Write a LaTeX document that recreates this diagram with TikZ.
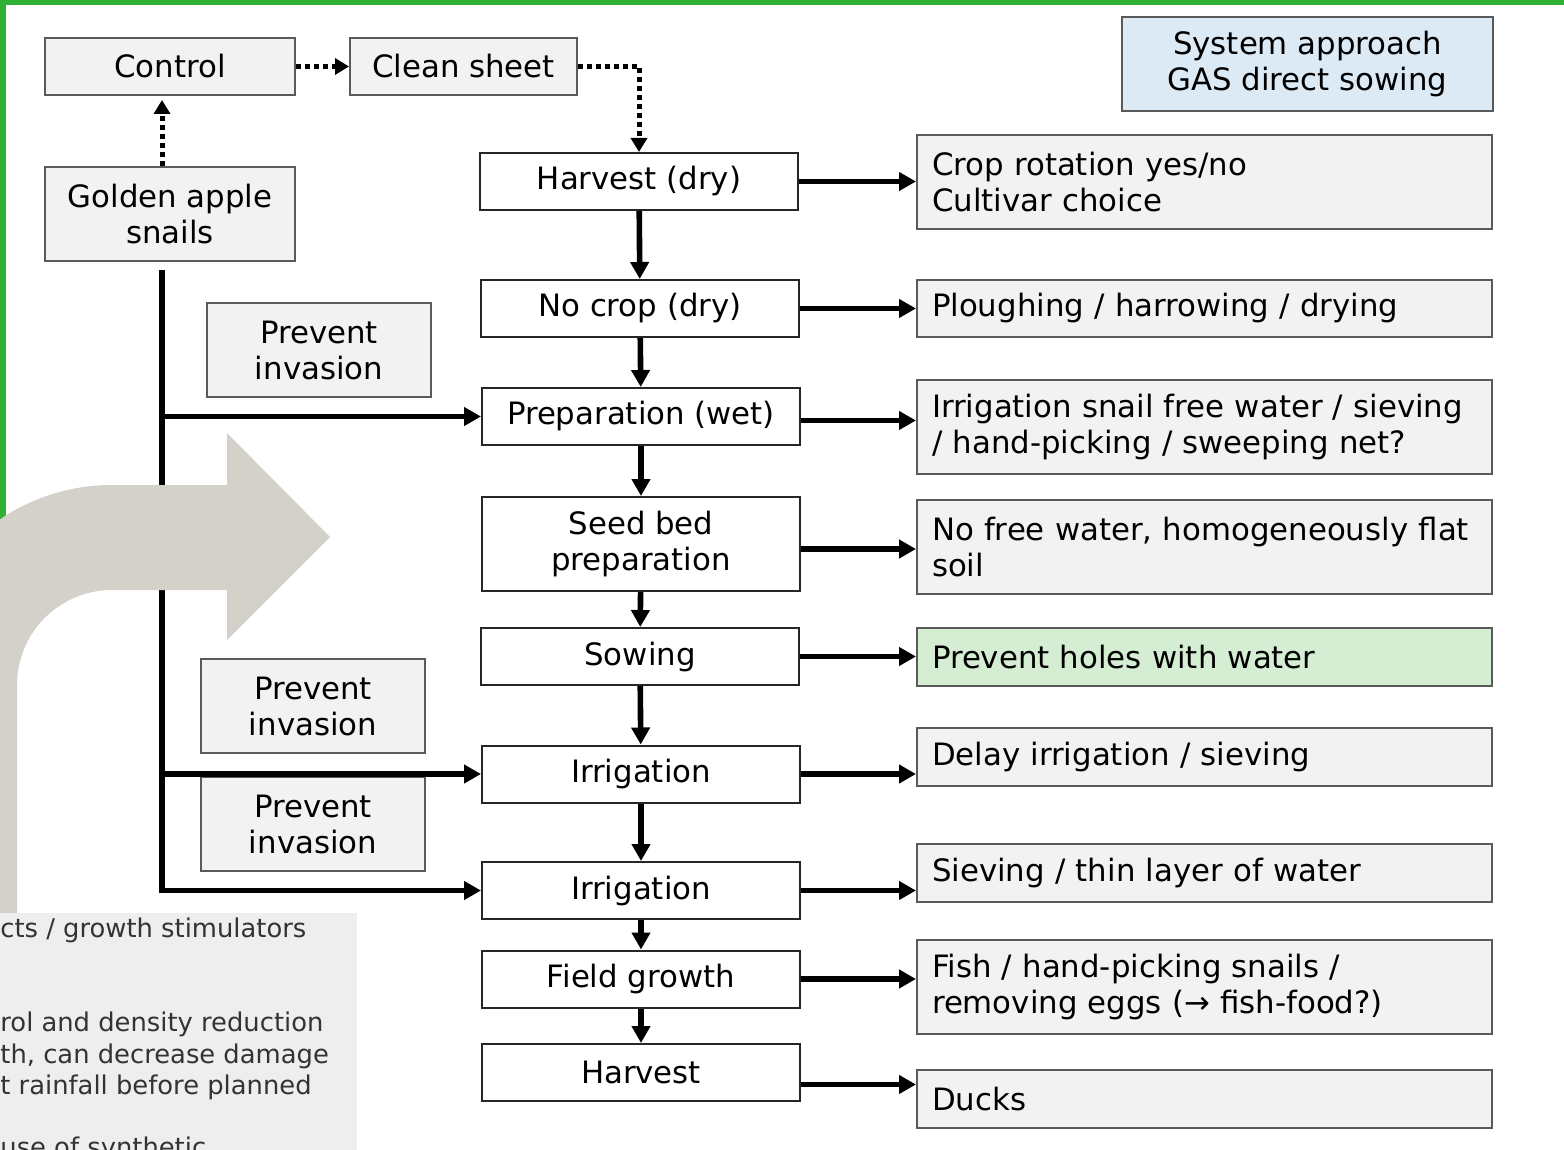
\documentclass[tikz,border=0pt]{standalone}
\usepackage{fontspec}
\setmainfont{DejaVu Sans}
\usetikzlibrary{arrows.meta, positioning}

\definecolor{boxgrey}{HTML}{F2F2F2}
\definecolor{boxline}{HTML}{5A5A5A}
\definecolor{sysblue}{HTML}{DCEAF6}
\definecolor{holegreen}{HTML}{D5EED3}
\definecolor{framegreen}{HTML}{2EB135}
\definecolor{bigarrow}{HTML}{D4D1CA}
\definecolor{panelgrey}{HTML}{EEEEEE}
\definecolor{panelink}{HTML}{333333}

\newcommand\boxfont{\fontsize{15.4}{18}\selectfont}
\newcommand\panelfont{\fontsize{12.9}{15.5}\selectfont}

\tikzset{
	greybox/.style={draw=boxline, fill=boxgrey, line width=1pt, inner sep=0pt, align=center, font=\boxfont},
	stagebox/.style={draw=black!85, fill=white, line width=1pt, minimum width=159pt, minimum height=28.5pt, inner sep=0pt, align=center, font=\boxfont},
	measurebox/.style={greybox, anchor=east, text width=272.5pt, inner xsep=7.5pt, align=left},
	flow/.style={line width=2.8pt, -{Triangle[length=8.5pt, width=9pt]}},
	dotflow/.style={line width=2.5pt, dash pattern=on 2.5pt off 2pt, -{Triangle[length=7pt, width=8pt]}},
	paneltext/.style={anchor=base west, inner sep=0pt, font=\panelfont, text=panelink}
}

\begin{document}
\begin{tikzpicture}[x=0.5pt, y=-0.5pt]
		\useasboundingbox (0,0) rectangle (1564,1150);
		\fill[framegreen] (0,0) rectangle (1564,5);
		\fill[framegreen] (0,0) rectangle (6,1150);

		\node[greybox, minimum width=125pt, minimum height=28.5pt] (ctrl) at (170,66.5) {Control};
		\node[greybox, minimum width=113.5pt, minimum height=28.5pt] (clean) at (463.5,66.5) {Clean sheet};
		\node[greybox, minimum width=125pt, minimum height=47pt] (snails) at (170,214) {Golden apple\\snails};
		\node[greybox, fill=sysblue, minimum width=185.5pt, minimum height=47pt] (system) at (1307.5,64) {System approach\\GAS direct sowing};

		\node[greybox, minimum width=112pt, minimum height=47pt] (prevA) at (319,350) {Prevent\\invasion};
		\node[greybox, minimum width=112pt, minimum height=47pt] (prevB) at (313,706) {Prevent\\invasion};
		\node[greybox, minimum width=112pt, minimum height=47pt] (prevC) at (313,824) {Prevent\\invasion};

		\node[stagebox] (hdry) at (639,181.5) {Harvest (dry)};
		\node[stagebox] (nocrop) at (640,308.5) {No crop (dry)};
		\node[stagebox] (prep) at (641,416.5) {Preparation (wet)};
		\node[stagebox, minimum height=47pt] (seedbed) at (641,544) {Seed bed\\preparation};
		\node[stagebox] (sowing) at (640,656.5) {Sowing};
		\node[stagebox] (irrA) at (641,774) {Irrigation};
		\node[stagebox] (irrB) at (641,890.5) {Irrigation};
		\node[stagebox] (growth) at (641,979) {Field growth};
		\node[stagebox] (harvest) at (641,1072.5) {Harvest};

		\node[measurebox, minimum height=47pt] (rotation) at (1493,182) {Crop rotation yes/no\\Cultivar choice};
		\node[measurebox, minimum height=28.5pt] (plough) at (1493,308.5) {Ploughing / harrowing / drying};
		\node[measurebox, minimum height=47pt] (snailfree) at (1493,427) {Irrigation snail free water / sieving\\/ hand-picking / sweeping net?};
		\node[measurebox, minimum height=47pt] (nofree) at (1493,547) {No free water, homogeneously flat\\soil};
		\node[measurebox, fill=holegreen, minimum height=29pt] (holes) at (1493,657) {Prevent holes with water};
		\node[measurebox, minimum height=29pt] (delay) at (1493,757) {Delay irrigation / sieving};
		\node[measurebox, minimum height=29pt] (thin) at (1493,873) {Sieving / thin layer of water};
		\node[measurebox, minimum height=47pt] (fish) at (1493,987) {Fish / hand-picking snails /\\removing eggs (→ fish-food?)};
		\node[measurebox, minimum height=29pt] (ducks) at (1493,1099) {Ducks};

		% dotted route
		\draw[dotflow] ([xshift=-4pt]snails.north) -- ([xshift=-4pt,yshift=-2pt]ctrl.south);
		\draw[dotflow] (ctrl.east) -- (clean.west);
		\draw[dotflow] (clean.east) -| (hdry.north);

		% main chain
		\draw[flow] (hdry) -- (nocrop);
		\draw[flow] (nocrop) -- (prep);
		\draw[flow] (prep) -- (seedbed);
		\draw[flow] (seedbed) -- (sowing);
		\draw[flow] (sowing) -- (irrA);
		\draw[flow] (irrA) -- (irrB);
		\draw[flow] (irrB) -- (growth);
		\draw[flow] (growth) -- (harvest);

		\draw[flow] (hdry.east) -- (hdry.east -| rotation.west);
		\draw[flow] (nocrop.east) -- (nocrop.east -| plough.west);
		\draw[flow] ([yshift=-2pt]prep.east) -- ([yshift=-2pt]prep.east -| snailfree.west);
		\draw[flow] ([yshift=-2.5pt]seedbed.east) -- ([yshift=-2.5pt]seedbed.east -| nofree.west);
		\draw[flow] (sowing.east) -- (sowing.east -| holes.west);
		\draw[flow] (irrA.east) -- (irrA.east -| delay.west);
		\draw[flow] (irrB.east) -- (irrB.east -| thin.west);
		\draw[flow] (growth.east) -- (growth.east -| fish.west);
		\draw[flow] ([yshift=-6pt]harvest.east) -- ([yshift=-6pt]harvest.east -| ducks.west);

		% snail trunk
		\coordinate (trunk) at (162,270);
		\draw[flow] (trunk) |- (irrB.west);
		\draw[flow] (trunk |- prep.west) -- (prep.west);
		\draw[flow] (trunk |- irrA.west) -- (irrA.west);

		% grey bent arrow on top
		\fill[bigarrow] (-88,913) -- (-88,685) arc[start angle=180, end angle=90, radius=100pt]
			-- (227,485) -- (227,433) -- (330,537) -- (227,640) -- (227,590) -- (112,590)
			arc[start angle=90, end angle=180, radius=47.5pt] -- (17,913) -- cycle;

		% cut-off panel
		\fill[panelgrey] (0,913) rectangle (357,1150);
		\begin{scope}
			\clip (0,913) rectangle (357,1150);
			\node[paneltext] (lineA) at (0,937) {cts / growth stimulators};
			\node[paneltext] (lineB) at (0,1031) {rol and density reduction};
			\node[paneltext] (lineC) at (0,1063) {th, can decrease damage};
			\node[paneltext] (lineD) at (0,1094) {t rainfall before planned};
			\node[paneltext] (lineE) at (0,1156) {use of synthetic};
		\end{scope}
	\end{tikzpicture}
\end{document}
